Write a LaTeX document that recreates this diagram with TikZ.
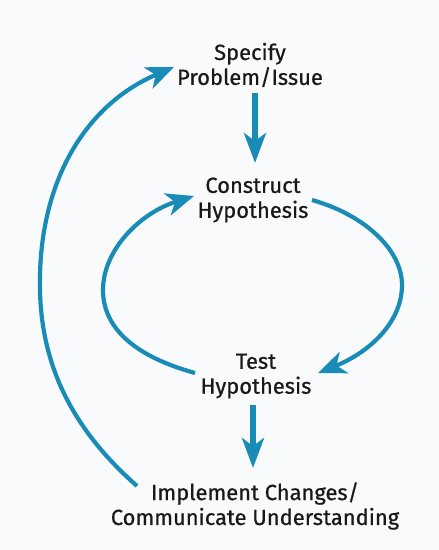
\documentclass[tikz,border=0pt]{standalone}
\usepackage{fontspec}
\setmainfont{Fira Sans}[FakeBold=0.7]
\usetikzlibrary{arrows.meta}
\definecolor{flow}{RGB}{24,140,182}
\definecolor{bgc}{RGB}{249,250,251}
\definecolor{ink}{RGB}{25,25,25}
\tikzset{
  lbl/.style={align=center, font=\fontsize{22}{25}\selectfont, text=ink, inner sep=0pt},
  flowline/.style={draw=flow, line width=4.2pt, -{Stealth[length=28pt, width=23pt, inset=8pt]}},
  straight/.style={draw=flow, line width=5.5pt, -{Stealth[length=30pt, width=22pt, inset=8pt]}},
}
\begin{document}
\begin{tikzpicture}[x=1bp, y=-1bp]
\fill[bgc] (0,0) rectangle (439,550);
\useasboundingbox (0,0) rectangle (439,550);
\node[lbl] (spec) at (250,65) {Specify\\Problem/Issue};
\node[lbl] (cons) at (253,200) {Construct\\Hypothesis};
\node[lbl] (test) at (256,376) {Test\\Hypothesis};
\node[lbl] (impl) at (255,506) {Implement Changes/\\Communicate Understanding};
\coordinate (outS) at (137,486);
\coordinate (outE) at (174,67);
\coordinate (inLS) at (195,373);
\coordinate (inLE) at (194,196);
\coordinate (inRS) at (312,200);
\coordinate (inRE) at (318,373);
\draw[straight] (255,93) -- (255,163);
\draw[straight] (253,405) -- (253,468);
\draw[flowline] (outS) .. controls (62,420) and (38,350) .. (40,275) .. controls (42,180) and (85,105) .. (outE);
\draw[flowline] (inLS) .. controls (130,355) and (103,325) .. (103,290) .. controls (103,250) and (140,213) .. (inLE);
\draw[flowline] (inRS) .. controls (365,215) and (402,250) .. (402,285) .. controls (402,322) and (370,352) .. (inRE);
\end{tikzpicture}
\end{document}
